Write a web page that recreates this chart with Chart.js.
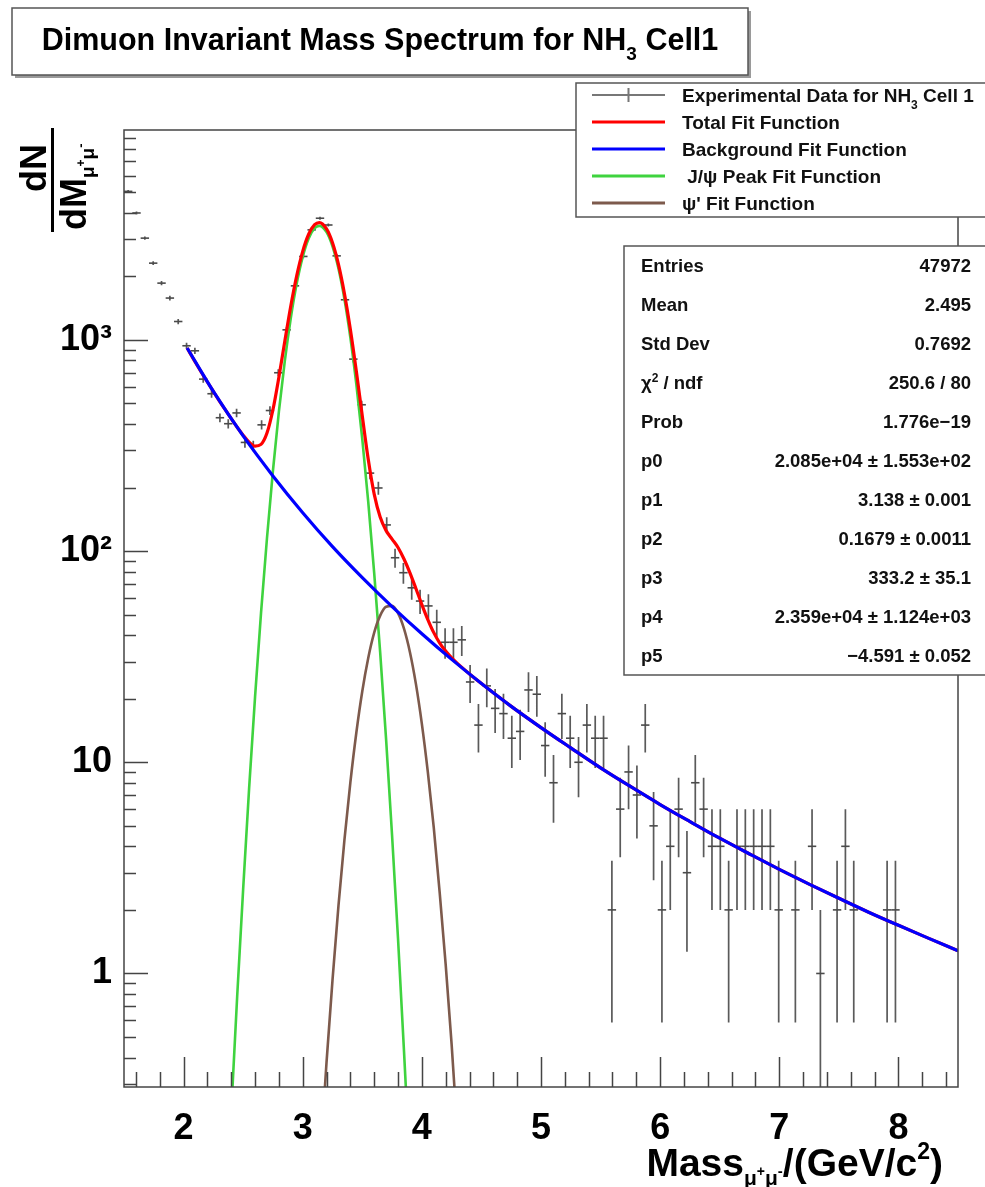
<!DOCTYPE html>
<html>
<head>
    <title>Dimuon Invariant Mass Spectrum</title>
    <script src="https://cdn.jsdelivr.net/npm/chart.js"></script>
    <style>
        body { margin: 0; background: #fff; }
        canvas { display: block; }
    </style>
</head>
<body>
    <canvas id="mass_chart" width="985" height="1187"></canvas>
    <script>
        // histogram: 100 bins from 1.5 to 8.5 GeV/c^2
        const binLow = 1.5;
        const binWidth = 0.07;
        const counts = [
            5050, 3990, 3033, 2309, 1857, 1578, 1222, 938, 888, 652,
            556, 428, 401, 451, 327, 315, 396, 463, 699, 1116,
            1803, 2484, 3319, 3768, 3500, 2500, 1549, 811, 493, 234,
            199, 133, 93, 79, 67, 58, 55, 46, 37, 37,
            38, 24, 15, 23, 18, 17, 13, 14, 22, 21,
            12, 8, 17, 13, 10, 15, 13, 13, 2, 6,
            9, 7, 15, 5, 2, 4, 6, 3, 8, 6,
            4, 4, 2, 4, 4, 4, 4, 4, 2, null,
            2, null, 4, 1, null, 2, 4, 2, null, null,
            null, 2, 2, null, null, null, null, null, null, null
        ];

        // fit curves
        const totalX = [2.03, 2.10, 2.15, 2.20, 2.25, 2.30, 2.35, 2.40, 2.45, 2.50, 2.55, 2.60, 2.65, 2.70, 2.75, 2.80, 2.85, 2.90, 2.95, 3.00,
            3.05, 3.10, 3.14, 3.20, 3.25, 3.30, 3.35, 3.40, 3.45, 3.50, 3.55, 3.60, 3.65, 3.70, 3.75, 3.80, 3.85, 3.90, 3.95, 4.00,
            4.05, 4.10, 4.15, 4.20, 4.25, 4.30, 4.40, 4.50, 4.75, 5.0, 5.25, 5.5, 5.75, 6.0, 6.25, 6.5, 6.75, 7.0, 7.25, 7.5,
            7.75, 8.0, 8.25, 8.5];
        const totalY = [915, 782, 702, 632, 570, 515, 467, 424, 386, 354, 328, 314, 320, 362, 467, 666, 989, 1448, 2017, 2626,
            3164, 3511, 3592, 3352, 2882, 2277, 1659, 1120, 711, 436, 272, 186, 145, 125, 114, 104, 91.7, 78.9, 66.5, 55.8,
            47.4, 41.1, 36.7, 33.6, 31.2, 29.3, 26.2, 23.6, 18.4, 14.6, 11.7, 9.41, 7.68, 6.31, 5.24, 4.37, 3.68, 3.11, 2.65, 2.27,
            1.95, 1.69, 1.47, 1.28];

        const bkgX = [2.03, 2.25, 2.5, 2.75, 3.0, 3.25, 3.5, 3.75, 4.0, 4.25, 4.5, 4.75, 5.0, 5.25, 5.5, 5.75, 6.0, 6.25, 6.5, 6.75,
            7.0, 7.25, 7.5, 7.75, 8.0, 8.25, 8.5];
        const bkgY = [915, 570, 351, 227, 152, 105, 74.9, 54.6, 40.6, 30.7, 23.6, 18.4, 14.6, 11.7, 9.41, 7.68, 6.31, 5.24, 4.37, 3.68,
            3.11, 2.65, 2.27, 1.95, 1.69, 1.47, 1.28];

        const jpsiX = [2.40, 2.45, 2.50, 2.55, 2.60, 2.65, 2.70, 2.75, 2.80, 2.85, 2.90, 2.95, 3.00, 3.05, 3.10, 3.14,
            3.20, 3.25, 3.30, 3.35, 3.40, 3.45, 3.50, 3.55, 3.60, 3.65, 3.70, 3.75, 3.80, 3.85, 3.90];
        const jpsiY = [0.22, 0.78, 2.5, 7.5, 20.4, 50.8, 115, 240, 457, 797, 1270, 1853, 2474, 3023, 3380, 3468,
            3239, 2776, 2177, 1563, 1026, 617, 339, 171, 78.7, 33.2, 12.8, 4.5, 1.46, 0.43, 0.12];

        const psi2X = [3.15, 3.20, 3.25, 3.30, 3.35, 3.40, 3.45, 3.50, 3.55, 3.60, 3.65, 3.70, 3.75, 3.80, 3.85, 3.90,
            3.95, 4.00, 4.05, 4.10, 4.15, 4.20, 4.25, 4.30, 4.35];
        const psi2Y = [0.14, 0.38, 0.93, 2.09, 4.28, 8.03, 13.8, 21.7, 31.2, 41.1, 49.5, 54.5, 55.0, 50.8, 42.9, 33.2,
            23.5, 15.2, 9.0, 4.9, 2.4, 1.10, 0.46, 0.17, 0.06];

        const xTickValues = [2, 3, 4, 5, 6, 7, 8];
        const yTickValues = [1, 10, 100, 1000];
        const yTickLabels = ['1', '10', '10\u00b2', '10\u00b3'];

        const legendLabels = ['Experimental Data for NH', 'Total Fit Function', 'Background Fit Function', ' J/\u03c8 Peak Fit Function', '\u03c8\' Fit Function'];
        const statNames = ['Entries', 'Mean', 'Std Dev', '\u03c7', 'Prob', 'p0', 'p1', 'p2', 'p3', 'p4', 'p5'];
        const statValues = ['47972', '2.495', '0.7692', '250.6 / 80', '1.776e\u221219', '2.085e+04 \u00b1 1.553e+02', '3.138 \u00b1 0.001',
            '0.1679 \u00b1 0.0011', '333.2 \u00b1 35.1', '2.359e+04 \u00b1 1.124e+03', '\u22124.591 \u00b1 0.052'];

        const FONT = "'Liberation Sans', Arial, Helvetica, sans-serif";
        const C_RED = '#ff0000', C_BLUE = '#0000ff', C_GREEN = '#3fd33f', C_BROWN = '#7d5a4c', C_DATA = '#4a4a4a';

        function toPoints(xs, ys) {
            return xs.map((v, i) => ({ x: v, y: ys[i] }));
        }

        // text made of pieces [text, size, dy]
        function drawRich(ctx, x, y, parts, align) {
            let total = 0;
            const widths = parts.map(p => {
                ctx.font = 'bold ' + p[1] + 'px ' + FONT;
                const w = ctx.measureText(p[0]).width;
                total += w;
                return w;
            });
            let cx = align === 'right' ? x - total : (align === 'center' ? x - total / 2 : x);
            parts.forEach((p, i) => {
                ctx.font = 'bold ' + p[1] + 'px ' + FONT;
                ctx.fillText(p[0], cx, y + (p[2] || 0));
                cx += widths[i];
            });
        }

        function paveBox(ctx, x0, y0, x1, y1) {
            ctx.fillStyle = '#fff';
            ctx.fillRect(x0, y0, x1 - x0, y1 - y0);
            ctx.strokeStyle = '#555';
            ctx.lineWidth = 1.5;
            ctx.strokeRect(x0, y0, x1 - x0, y1 - y0);
        }

        const errorBars = {
            id: 'errorBars',
            beforeDatasetsDraw(chart) {
                const ctx = chart.ctx;
                const a = chart.chartArea;
                const ys = chart.scales.y;
                const meta = chart.getDatasetMeta(0);
                ctx.save();
                ctx.beginPath();
                ctx.rect(a.left, a.top, a.right - a.left, a.bottom - a.top);
                ctx.clip();
                ctx.strokeStyle = '#5a5a5a';
                ctx.lineWidth = 1.7;
                ctx.beginPath();
                counts.forEach((n, i) => {
                    if (n === null) return;
                    const el = meta.data[i];
                    const err = Math.sqrt(n);
                    const top = ys.getPixelForValue(n + err);
                    const bot = n - err > 0 ? ys.getPixelForValue(n - err) : a.bottom;
                    ctx.moveTo(el.x, top);
                    ctx.lineTo(el.x, bot);
                });
                ctx.stroke();
                ctx.restore();
            }
        };

        const frameTicks = {
            id: 'frameTicks',
            afterDatasetsDraw(chart) {
                const ctx = chart.ctx;
                const a = chart.chartArea;
                const xs = chart.scales.x, ys = chart.scales.y;
                ctx.save();
                ctx.strokeStyle = '#444';
                ctx.lineWidth = 1.5;
                ctx.strokeRect(a.left, a.top, a.right - a.left, a.bottom - a.top);
                ctx.beginPath();
                // minor ticks every 0.2, long ones on whole numbers
                for (let k = 8; k <= 42; k++) {
                    const v = k * 0.2;
                    const px = Math.round(xs.getPixelForValue(v)) + 0.5;
                    const len = k % 5 === 0 ? 30 : 15;
                    ctx.moveTo(px, a.bottom);
                    ctx.lineTo(px, a.bottom - len);
                }
                for (let d = -1; d <= 3; d++) {
                    for (let m = 1; m <= 9; m++) {
                        const v = m * Math.pow(10, d);
                        if (v < ys.min || v > ys.max) continue;
                        const py = Math.round(ys.getPixelForValue(v)) + 0.5;
                        ctx.moveTo(a.left, py);
                        ctx.lineTo(a.left + (m === 1 ? 24 : 12), py);
                    }
                }
                ctx.stroke();
                ctx.restore();
            },
            afterDraw(chart) {
                const ctx = chart.ctx;
                ctx.save();
                ctx.textBaseline = 'alphabetic';

                // title pave
                ctx.fillStyle = '#9a9a9a';
                ctx.fillRect(15, 11, 736, 67);
                paveBox(ctx, 12, 8, 748, 75);
                ctx.fillStyle = '#000';
                drawRich(ctx, 380, 50, [['Dimuon Invariant Mass Spectrum for NH', 30.5], ['3', 19, 10], [' Cell1', 30.5]], 'center');

                // legend
                paveBox(ctx, 576, 83, 995, 217);
                const rowsY = [95, 122, 149, 176, 203];
                const colors = ['#777', C_RED, C_BLUE, C_GREEN, C_BROWN];
                rowsY.forEach((ry, i) => {
                    ctx.strokeStyle = colors[i];
                    ctx.lineWidth = i === 0 ? 2 : 3;
                    ctx.beginPath();
                    ctx.moveTo(592, ry);
                    ctx.lineTo(665, ry);
                    if (i === 0) {
                        ctx.moveTo(628.5, ry - 7);
                        ctx.lineTo(628.5, ry + 7);
                    }
                    ctx.stroke();
                    ctx.fillStyle = '#111';
                    const parts = i === 0
                        ? [[legendLabels[0], 19], ['3', 12, 7], [' Cell 1', 19]]
                        : [[legendLabels[i], 19]];
                    drawRich(ctx, 682, ry + 7, parts, 'left');
                });

                // statistics pave
                paveBox(ctx, 624, 246, 995, 675);
                ctx.fillStyle = '#111';
                statNames.forEach((name, i) => {
                    const ry = 272 + i * 39;
                    if (i === 3) {
                        drawRich(ctx, 641, ry, [['\u03c7', 18.5], ['2', 12, -7], [' / ndf', 18.5]], 'left');
                    } else {
                        drawRich(ctx, 641, ry, [[name, 18.5]], 'left');
                    }
                    drawRich(ctx, 971, ry, [[statValues[i], 18.5]], 'right');
                });

                // axis titles
                ctx.fillStyle = '#000';
                drawRich(ctx, 943, 1176, [['Mass', 39], ['\u03bc', 21, 9], ['+', 14, 0], ['\u03bc', 21, 9], ['-', 15, 0],
                    ['/(GeV/c', 39], ['2', 23, -17], [')', 39]], 'right');

                ctx.rotate(-Math.PI / 2);
                drawRich(ctx, -168, 46, [['dN', 36]], 'center');
                ctx.fillRect(-232, 51, 104, 3);
                drawRich(ctx, -230, 86, [['dM', 36], ['\u03bc', 19, 8], ['+', 12, -1], ['\u03bc', 19, 8], ['-', 13, -1]], 'left');
                ctx.restore();
            }
        };

        const binCentres = counts.map((n, i) => binLow + (i + 0.5) * binWidth);

        const ctx = document.getElementById('mass_chart');
        const chart = new Chart(ctx, {
            type: 'scatter',
            data: {
                datasets: [
                    {
                        label: 'Experimental Data for NH3 Cell 1',
                        data: binCentres.map((c, i) => ({ x: c, y: counts[i] })),
                        pointStyle: 'line',
                        pointRadius: 4.2,
                        pointBorderWidth: 1.6,
                        pointBorderColor: C_DATA,
                        borderColor: C_DATA,
                        showLine: false,
                        order: 5
                    },
                    {
                        label: 'Total Fit Function',
                        data: toPoints(totalX, totalY),
                        showLine: true, pointRadius: 0, borderWidth: 3.2, borderColor: C_RED,
                        cubicInterpolationMode: 'monotone', order: 2
                    },
                    {
                        label: 'Background Fit Function',
                        data: toPoints(bkgX, bkgY),
                        showLine: true, pointRadius: 0, borderWidth: 3.2, borderColor: C_BLUE,
                        cubicInterpolationMode: 'monotone', order: 1
                    },
                    {
                        label: 'J/psi Peak Fit Function',
                        data: toPoints(jpsiX, jpsiY),
                        showLine: true, pointRadius: 0, borderWidth: 2.6, borderColor: C_GREEN,
                        cubicInterpolationMode: 'monotone', order: 4
                    },
                    {
                        label: "psi' Fit Function",
                        data: toPoints(psi2X, psi2Y),
                        showLine: true, pointRadius: 0, borderWidth: 2.6, borderColor: C_BROWN,
                        cubicInterpolationMode: 'monotone', order: 3
                    }
                ]
            },
            options: {
                responsive: false,
                animation: false,
                devicePixelRatio: 1,
                layout: { padding: { top: 130, right: 27, left: 0, bottom: 0 } },
                plugins: { legend: { display: false }, tooltip: { enabled: false }, title: { display: false } },
                scales: {
                    x: {
                        type: 'linear',
                        min: 1.5,
                        max: 8.5,
                        bounds: 'data',
                        grid: { display: false },
                        border: { display: false },
                        ticks: {
                            color: '#000',
                            padding: 12,
                            font: { family: FONT, size: 36, weight: 'bold' },
                            callback: v => String(v)
                        },
                        afterBuildTicks: s => { s.ticks = xTickValues.map(v => ({ value: v })); },
                        afterFit: s => { s.height = 100; }
                    },
                    y: {
                        type: 'logarithmic',
                        min: 0.29,
                        max: 9860,
                        bounds: 'data',
                        grid: { display: false },
                        border: { display: false },
                        ticks: {
                            color: '#000',
                            padding: 4,
                            font: { family: FONT, size: 36, weight: 'bold' },
                            callback: v => yTickLabels[yTickValues.indexOf(v)]
                        },
                        afterBuildTicks: s => { s.ticks = yTickValues.map(v => ({ value: v })); },
                        afterFit: s => { s.width = 124; }
                    }
                }
            },
            plugins: [errorBars, frameTicks]
        });
    </script>
</body>
</html>
